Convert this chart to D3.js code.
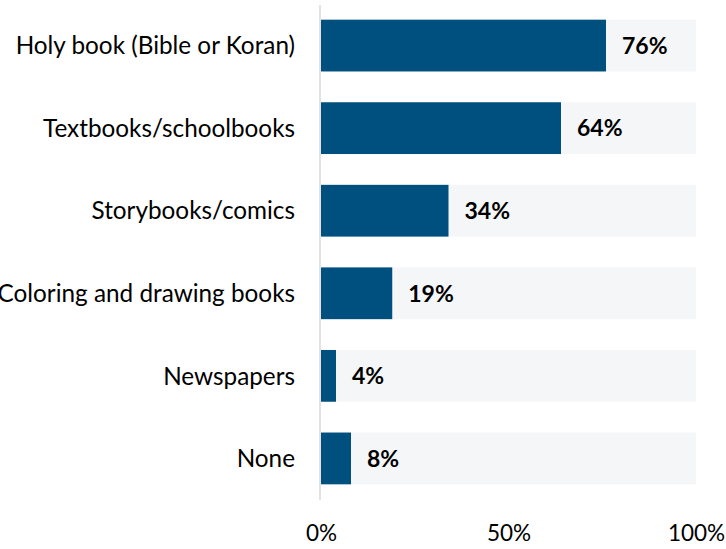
<!DOCTYPE html>
<html><head><meta charset="utf-8">
<script src="https://cdn.jsdelivr.net/npm/d3@7"></script>
<style>body{margin:0;background:#fff}svg{display:block}text{font-family:Lato,sans-serif}</style>
</head><body><svg id="c" width="726" height="549"></svg>
<script>
const categories = ["Holy book (Bible or Koran)","Textbooks/schoolbooks","Storybooks/comics","Coloring and drawing books","Newspapers","None"];
const values = [76,64,34,19,4,8];
const tickValues = [0,50,100];
const tickLabels = ["0%","50%","100%"];

const svg = d3.select("#c");
const x = d3.scaleLinear().domain([0,100]).range([321,696]);
const y = d3.scaleBand().domain(categories).range([4,500]).paddingInner(0.373).paddingOuter(0.19);

svg.selectAll("rect.bg").data(categories).join("rect").attr("class","bg")
  .attr("x",x(0)).attr("y",d=>y(d)).attr("width",x(100)-x(0)).attr("height",y.bandwidth()).attr("fill","#f5f6f8");
svg.selectAll("rect.bar").data(values).join("rect").attr("class","bar")
  .attr("x",x(0)).attr("y",(d,i)=>y(categories[i])).attr("width",d=>x(d)-x(0)).attr("height",y.bandwidth()).attr("fill","#00507f");
svg.append("line").attr("x1",320).attr("x2",320).attr("y1",5).attr("y2",500).attr("stroke","#d9d9d9").attr("stroke-width",1.5);

svg.selectAll("text.val").data(values).join("text").attr("class","val")
  .attr("x",d=>x(d)+16).attr("y",(d,i)=>y(categories[i])+y.bandwidth()/2).attr("dy","0.36em")
  .attr("font-size",23).attr("font-weight","bold").attr("fill","#000").text(d=>d+"%");
svg.selectAll("text.cat").data(categories).join("text").attr("class","cat")
  .attr("x",295).attr("y",d=>y(d)+y.bandwidth()/2).attr("dy","0.36em").attr("text-anchor","end")
  .attr("font-size",24.3).attr("fill","#000").text(d=>d);

const ax = d3.axisBottom(x).tickValues(tickValues).tickFormat((d,i)=>tickLabels[i]).tickSize(0).tickPadding(0);
const g = svg.append("g").attr("transform","translate(0,523)").call(ax);
g.select(".domain").remove();
g.selectAll("text").attr("font-size",22.5).attr("fill","#000").attr("font-family","Lato,sans-serif").attr("dy","0.8em");
</script></body></html>
